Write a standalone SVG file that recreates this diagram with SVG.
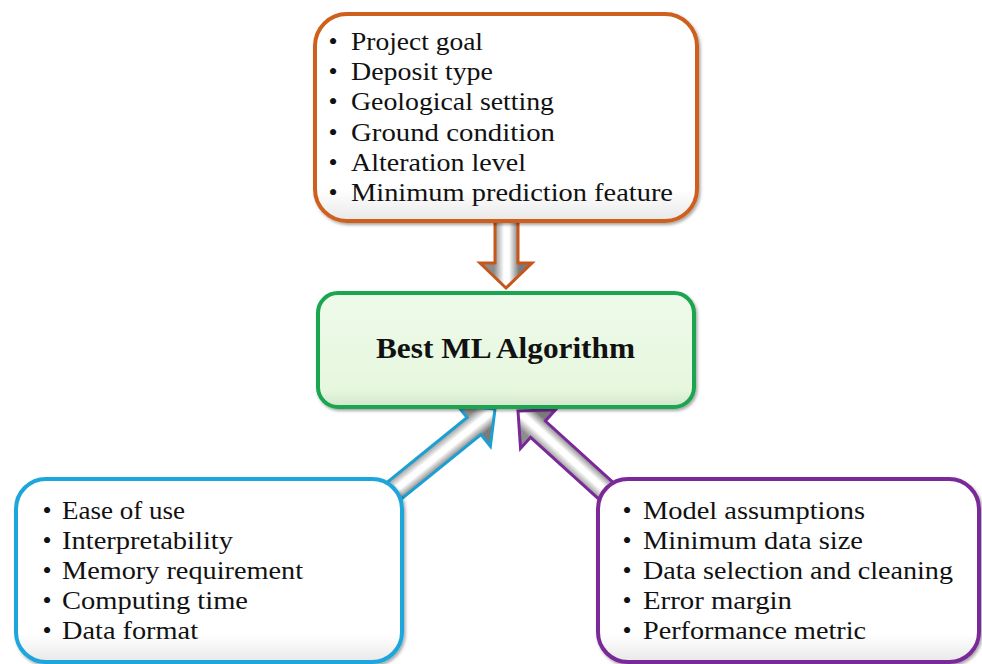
<svg xmlns="http://www.w3.org/2000/svg" width="982" height="664" viewBox="0 0 982 664">
<style>
  .t { font-family: "Liberation Serif", "Times New Roman", serif; font-size: 26px; fill: #111; }
  .b { font-family: "Liberation Serif", "Times New Roman", serif; font-size: 26px; fill: #111; text-anchor: middle; }
  .title { font-family: "Liberation Serif", "Times New Roman", serif; font-size: 30px; font-weight: bold; fill: #111; }
  .box { fill: url(#boxfill); stroke-width: 4; filter: url(#sh); }
  .arrow { fill: url(#arrfill); stroke-width: 3; stroke-linejoin: miter; }
</style>
<defs>
  <linearGradient id="boxfill" x1="0" y1="0" x2="0" y2="1">
    <stop offset="0" stop-color="#ffffff"/>
    <stop offset="0.85" stop-color="#ffffff"/>
    <stop offset="1" stop-color="#e8e8e8"/>
  </linearGradient>
  <linearGradient id="greenfill" x1="0" y1="0" x2="0" y2="1">
    <stop offset="0" stop-color="#eefaea"/>
    <stop offset="0.85" stop-color="#e6f7de"/>
    <stop offset="1" stop-color="#d2e6cc"/>
  </linearGradient>
  <linearGradient id="arrfill" gradientUnits="userSpaceOnUse" x1="0" y1="-12" x2="0" y2="12">
    <stop offset="0" stop-color="#8c8c8c"/>
    <stop offset="0.4" stop-color="#ffffff"/>
    <stop offset="0.6" stop-color="#ffffff"/>
    <stop offset="1" stop-color="#7a7a7a"/>
  </linearGradient>
  <linearGradient id="arrfillV" gradientUnits="userSpaceOnUse" x1="494" y1="0" x2="519" y2="0">
    <stop offset="0" stop-color="#8c8c8c"/>
    <stop offset="0.4" stop-color="#ffffff"/>
    <stop offset="0.6" stop-color="#ffffff"/>
    <stop offset="1" stop-color="#7a7a7a"/>
  </linearGradient>
  <filter id="sh" x="-5%" y="-5%" width="110%" height="115%">
    <feDropShadow dx="1.5" dy="2" stdDeviation="1.5" flood-color="#000" flood-opacity="0.35"/>
  </filter>
</defs>

<g id="connectors">
  <polygon class="arrow" style="fill:url(#arrfillV)" stroke="#c5571a" points="495,218 518,218 518,263 532,263 506,288 480,263 495,263"/>
  <polygon class="arrow" stroke="#1d9fd2" transform="translate(495,409) rotate(-39)" points="-138,-11 -27,-11 -27,-26 0,0 -27,26 -27,11 -138,11"/>
  <polygon class="arrow" stroke="#7a2a98" transform="translate(518,411) rotate(-137.8)" points="-128,-11 -27,-11 -27,-26 0,0 -27,26 -27,11 -128,11"/>
</g>

<g id="node-top">
  <rect class="box" x="315" y="14" width="382" height="207" rx="32" stroke="#cf5f1c"/>
  <text class="b" x="333" y="50">•</text>
  <text class="b" x="333" y="80">•</text>
  <text class="b" x="333" y="110">•</text>
  <text class="b" x="333" y="141">•</text>
  <text class="b" x="333" y="171">•</text>
  <text class="b" x="333" y="201">•</text>
  <text class="t" x="351" y="50" textLength="132" lengthAdjust="spacingAndGlyphs">Project goal</text>
  <text class="t" x="351" y="80" textLength="142" lengthAdjust="spacingAndGlyphs">Deposit type</text>
  <text class="t" x="351" y="110" textLength="203" lengthAdjust="spacingAndGlyphs">Geological setting</text>
  <text class="t" x="351" y="141" textLength="204" lengthAdjust="spacingAndGlyphs">Ground  condition</text>
  <text class="t" x="351" y="171" textLength="175" lengthAdjust="spacingAndGlyphs">Alteration level</text>
  <text class="t" x="351" y="201" textLength="322" lengthAdjust="spacingAndGlyphs">Minimum prediction feature</text>
</g>

<g id="node-center">
  <rect x="318" y="293" width="376" height="114" rx="20" fill="url(#greenfill)" stroke="#1aa550" stroke-width="4" filter="url(#sh)"/>
  <text class="title" x="376" y="358" textLength="259" lengthAdjust="spacingAndGlyphs">Best ML Algorithm</text>
</g>

<g id="node-left">
  <rect class="box" x="16" y="479" width="386" height="183" rx="30" stroke="#1fa6dc"/>
  <text class="b" x="47" y="519">•</text>
  <text class="b" x="47" y="549">•</text>
  <text class="b" x="47" y="579">•</text>
  <text class="b" x="47" y="609">•</text>
  <text class="b" x="47" y="639">•</text>
  <text class="t" x="62" y="519" textLength="123" lengthAdjust="spacingAndGlyphs">Ease of use</text>
  <text class="t" x="62" y="549" textLength="171" lengthAdjust="spacingAndGlyphs">Interpretability</text>
  <text class="t" x="62" y="579" textLength="241" lengthAdjust="spacingAndGlyphs">Memory requirement</text>
  <text class="t" x="62" y="609" textLength="186" lengthAdjust="spacingAndGlyphs">Computing  time</text>
  <text class="t" x="62" y="639" textLength="136" lengthAdjust="spacingAndGlyphs">Data format</text>
</g>

<g id="node-right">
  <rect class="box" x="598" y="479" width="381" height="183" rx="30" stroke="#7a2a98"/>
  <text class="b" x="627" y="519">•</text>
  <text class="b" x="627" y="549">•</text>
  <text class="b" x="627" y="579">•</text>
  <text class="b" x="627" y="609">•</text>
  <text class="b" x="627" y="639">•</text>
  <text class="t" x="643" y="519" textLength="222" lengthAdjust="spacingAndGlyphs">Model assumptions</text>
  <text class="t" x="643" y="549" textLength="220" lengthAdjust="spacingAndGlyphs">Minimum data size</text>
  <text class="t" x="643" y="579" textLength="310" lengthAdjust="spacingAndGlyphs">Data selection and cleaning</text>
  <text class="t" x="643" y="609" textLength="149" lengthAdjust="spacingAndGlyphs">Error margin</text>
  <text class="t" x="643" y="639" textLength="223" lengthAdjust="spacingAndGlyphs">Performance metric</text>
</g>
</svg>
